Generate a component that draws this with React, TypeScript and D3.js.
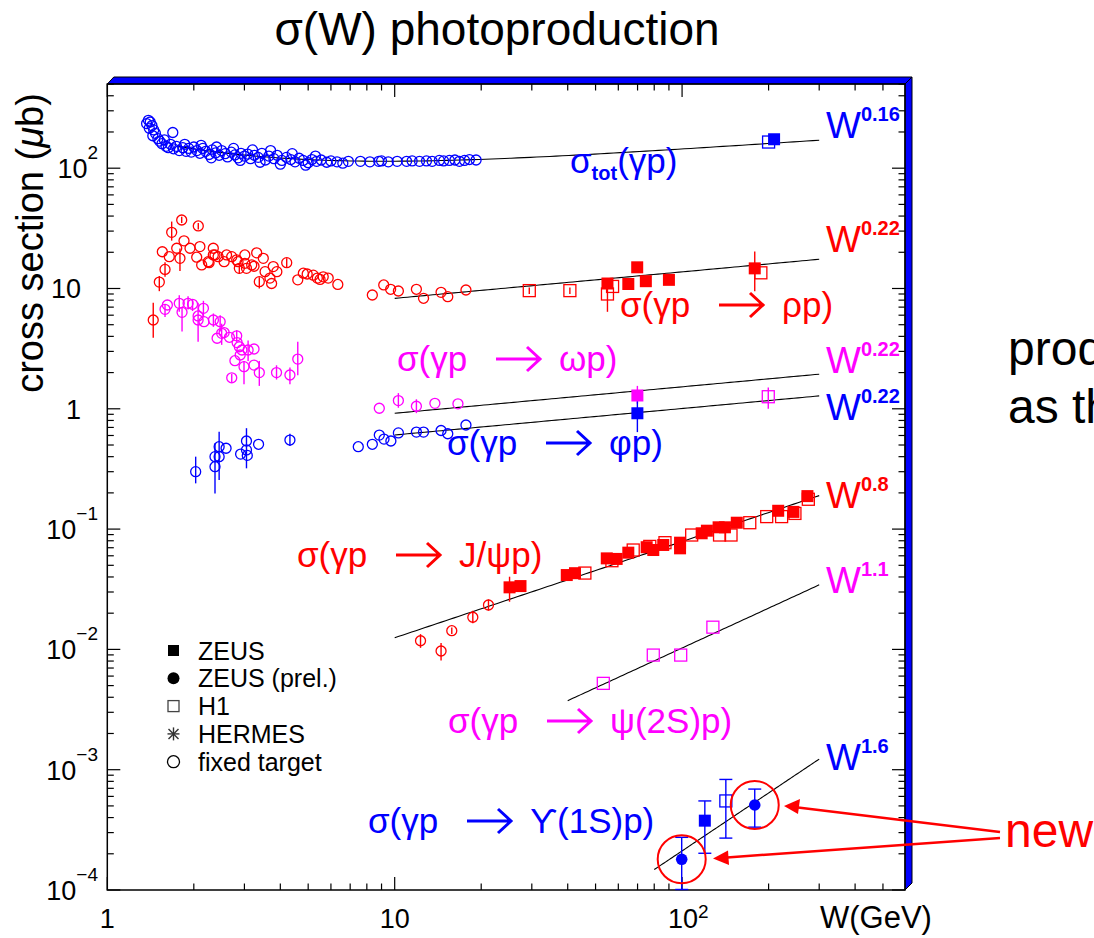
import React from 'react';
import * as d3 from 'd3';

// ---------- data: [W (GeV), sigma (microbarn), errLo?, errHi?] ----------
const sigTotFixedTarget: number[][] = [
  [1.37, 235], [1.39, 250], [1.41, 242], [1.43, 226], [1.40, 215], [1.45, 208], [1.47, 195], [1.44, 186],
  [1.50, 176], [1.52, 168], [1.55, 160], [1.58, 172], [1.60, 152], [1.63, 148], [1.66, 158], [1.69, 198],
  [1.70, 145], [1.74, 152], [1.78, 140], [1.83, 148], [1.86, 158], [1.88, 138], [1.92, 146], [1.96, 136], [2.0, 150],
  [2.05, 140], [2.1, 133], [2.12, 155], [2.15, 146], [2.2, 138], [2.26, 130], [2.3, 122], [2.32, 142], [2.38, 134],
  [2.4, 150], [2.45, 128], [2.5, 140], [2.57, 132], [2.62, 124], [2.7, 136], [2.75, 146], [2.78, 129], [2.85, 122],
  [2.9, 116], [2.92, 133], [3.0, 126], [3.08, 131], [3.15, 120], [3.2, 142], [3.25, 128], [3.35, 123], [3.4, 112],
  [3.45, 133], [3.55, 117], [3.65, 126], [3.7, 140], [3.8, 120], [3.9, 128], [4.0, 108], [4.05, 116], [4.2, 123],
  [4.35, 118], [4.4, 132], [4.5, 113], [4.65, 121], [4.8, 116], [4.9, 106], [5.0, 111], [5.15, 118], [5.3, 126],
  [5.35, 114], [5.55, 117], [5.8, 112], [6.0, 115], [6.3, 113], [6.6, 110], [6.9, 114],
  [7.6, 114], [8.2, 113], [8.8, 114], [9.0, 115], [9.5, 113], [10.2, 114], [11.0, 114], [11.5, 115],
  [12.2, 114], [12.9, 115], [13.5, 114], [14.3, 116], [14.8, 115], [15.5, 116], [16.2, 117], [16.8, 114],
  [17.5, 116], [18.2, 118], [19.2, 117],
];
const sigTotZEUS: number[][] = [[209, 174]];
const sigTotH1: number[][] = [[200, 165]];

const rhoFixedTarget: number[][] = [
  [1.445, 5.47, 3.9, 7.6], [1.517, 11.3, 9.5, 12.7], [1.554, 20.2], [1.588, 14.4, 12.5, 16.5], [1.643, 18.4],
  [1.675, 29.3, 25, 36], [1.744, 21.6], [1.79, 17.8, 14, 21.5], [1.815, 37.1, 35, 39.5], [1.849, 24.9],
  [1.94, 21.6], [2.047, 18.2], [2.073, 33.1, 31, 35], [2.10, 22.3], [2.13, 15.7], [2.246, 16.7], [2.26, 16.4],
  [2.338, 21.6], [2.338, 19.0], [2.37, 19.0], [2.43, 18.4], [2.55, 16.7], [2.60, 19.0], [2.71, 18.4],
  [2.82, 17.3], [2.85, 16.7], [2.88, 14.7, 13.2, 16.2], [3.01, 19.0], [3.01, 16.2], [3.05, 14.7], [3.18, 15.7],
  [3.24, 15.3], [3.31, 19.8], [3.38, 11.4, 10.0, 12.4], [3.49, 17.8], [3.54, 13.8], [3.68, 12.2], [3.73, 11.0],
  [3.78, 15.2], [3.89, 13.8], [4.21, 16.4, 15.0, 17.8], [4.60, 11.8], [4.81, 13.4], [4.96, 13.2], [5.21, 12.9],
  [5.38, 12.2], [5.50, 11.9], [5.64, 12.5], [5.87, 12.2], [6.34, 10.8], [8.36, 8.83], [9.16, 10.7],
  [9.68, 9.85], [10.3, 9.53], [11.9, 9.85], [12.6, 8.29], [14.5, 9.29], [15.3, 8.55], [17.7, 9.72],
];
const rhoZEUS: number[][] = [[55, 11.0], [65, 10.9], [69.8, 15.0, 13.5, 16.5], [74.8, 11.5], [90, 11.8], [179, 14.7, 9.5, 20.3]];
const rhoH1: number[][] = [[29.4, 9.6, 9.0, 10.2], [40.7, 9.6, 9.0, 10.2], [55, 9.0, 6.4, 10.0], [57.3, 10.4], [188, 13.5]];

const omegaFixedTarget: number[][] = [
  [1.588, 6.71, 5.8, 7.3], [1.618, 7.29], [1.78, 7.53, 6.4, 8.8], [1.82, 6.34, 4.4, 6.9], [1.91, 7.53, 6.7, 8.6],
  [1.98, 7.39, 6.5, 8.0], [2.07, 5.91], [2.07, 5.47, 3.6, 7.6], [2.16, 6.84, 5.8, 7.9], [2.17, 5.30],
  [2.34, 5.47, 4.8, 6.2], [2.41, 3.86], [2.47, 5.30, 4.4, 6.0], [2.50, 4.24, 3.4, 5.1], [2.55, 4.30],
  [2.66, 3.93], [2.71, 1.81, 1.65, 1.95], [2.78, 2.51], [2.82, 4.04, 3.6, 4.5], [2.83, 3.55], [2.88, 3.28],
  [2.90, 2.80], [2.94, 3.08], [2.99, 2.24, 1.6, 2.5], [3.09, 3.08, 2.5, 3.7], [3.24, 3.14], [3.24, 2.31],
  [3.38, 2.0, 1.55, 2.5], [3.88, 2.0, 1.75, 2.3], [4.32, 1.91, 1.6, 2.2], [4.6, 2.59, 1.9, 3.6],
  [8.84, 1.01], [10.3, 1.17, 1.02, 1.35], [11.9, 1.05, 0.92, 1.2], [13.8, 1.11], [16.6, 1.10],
];
const omegaZEUS: number[][] = [[69.9, 1.29, 1.1, 1.55]];
const omegaH1: number[][] = [[199.5, 1.26, 1.0, 1.5]];

const phiFixedTarget: number[][] = [
  [2.03, 0.30, 0.24, 0.40], [2.37, 0.33, 0.198, 0.517], [2.37, 0.40], [2.45, 0.40], [2.45, 0.484, 0.256, 0.645],
  [2.59, 0.47], [2.91, 0.42], [3.05, 0.54, 0.32, 0.69], [3.05, 0.455], [3.07, 0.41], [3.36, 0.507],
  [4.32, 0.55, 0.49, 0.62], [7.47, 0.484], [8.36, 0.507], [8.84, 0.605], [9.18, 0.56], [9.7, 0.54],
  [10.3, 0.63], [11.9, 0.64], [12.6, 0.64], [14.5, 0.66], [15.3, 0.62], [17.7, 0.733],
];
const phiZEUS: number[][] = [[69.9, 0.918, 0.64, 1.15]];

const jpsiFixedTarget: number[][] = [
  [12.3, 0.0118, 0.0103, 0.0134], [14.5, 0.0097, 0.0081, 0.0113], [15.8, 0.0143, 0.0134, 0.0152],
  [18.7, 0.0185, 0.0165, 0.021], [21.2, 0.0234, 0.021, 0.026],
];
const jpsiZEUS: number[][] = [
  [25.1, 0.0328, 0.0249, 0.0402], [27.4, 0.0336], [39.7, 0.0415], [42.4, 0.043], [54.7, 0.0571], [59.2, 0.0565],
  [65, 0.0637], [75.3, 0.0707], [79.4, 0.067], [86, 0.0738], [98.4, 0.0771], [98.4, 0.0692], [117, 0.0923],
  [122, 0.097], [134, 0.1035], [141, 0.1035], [155, 0.113], [216, 0.142], [244, 0.139], [273, 0.188],
];
const jpsiH1: number[][] = [
  [45.9, 0.0431], [57.0, 0.0546], [67.6, 0.067], [77.2, 0.0718], [87.2, 0.0771], [108, 0.0893], [135, 0.0893],
  [148, 0.0893], [172, 0.113], [197, 0.127], [222, 0.127], [247, 0.135], [275, 0.177],
];

const psi2sH1: number[][] = [[53.2, 0.00522], [79.4, 0.00897], [98.9, 0.00897], [128, 0.0153]];

const upsZEUS: number[][] = [[120, 0.000377, 0.000202, 0.00055]];
const upsH1: number[][] = [[142, 0.00055, 0.00027, 0.00083]];
const upsZEUSprel: number[][] = [[99.7, 0.00018, 0.000101, 0.000274], [179, 0.000509, 0.000333, 0.00069]];

// fits: sigma = A * W^n  (W range from..to)
const powerFits = [
  { A: 4.99, n: 0.22, from: 10, to: 300 },
  { A: 0.553, n: 0.22, from: 10, to: 300 },
  { A: 0.365, n: 0.22, from: 10, to: 300 },
  { A: 0.00198, n: 0.8, from: 10, to: 300 },
  { A: 6.48e-5, n: 1.1, from: 40, to: 300 },
  { A: 1.333e-7, n: 1.6, from: 80, to: 300 },
];
// Donnachie-Landshoff total cross section: X s^eps + Y s^-eta (s = W^2)
const dlFit = { X: 67.7, eps: 0.0808, Y: 129, eta: 0.4525, from: 1.75, to: 300 };

const W_DOMAIN = [1, 596.6];
const SIG_DOMAIN = [1e-4, 501];

const yTickLabels = [
  { v: 100, base: '10', exp: '2' },
  { v: 10, base: '10', exp: '' },
  { v: 1, base: '1', exp: '' },
  { v: 0.1, base: '10', exp: '\u22121' },
  { v: 0.01, base: '10', exp: '\u22122' },
  { v: 0.001, base: '10', exp: '\u22123' },
  { v: 0.0001, base: '10', exp: '\u22124' },
];
const xTickLabels = [
  { v: 1, base: '1', exp: '' },
  { v: 10, base: '10', exp: '' },
  { v: 100, base: '10', exp: '2' },
];

const legendItems = [
  { label: 'ZEUS', marker: 'fsquare' },
  { label: 'ZEUS (prel.)', marker: 'fcircle' },
  { label: 'H1', marker: 'osquare' },
  { label: 'HERMES', marker: 'star' },
  { label: 'fixed target', marker: 'ocircle' },
];

const BLUE = '#0000ff';
const RED = '#ff0000';
const MAG = '#ff00ff';
const FONT = '"Liberation Sans", Arial, Helvetica, sans-serif';

export default function App() {
  const x = d3.scaleLog().domain(W_DOMAIN).range([107.3, 905]);
  const y = d3.scaleLog().domain(SIG_DOMAIN).range([890, 84]);
  const L = 107.3, R = 905, T = 84, B = 890;

  const line = d3.line<number[]>().x(d => x(d[0])).y(d => y(d[1]));
  const sampleW = (a: number, b: number) => d3.range(0, 101).map(i => a * Math.pow(b / a, i / 100));

  const xTicks: { v: number; major: boolean }[] = [];
  [1, 10, 100].forEach(d => d3.range(1, 10).forEach(m => { const v = d * m; if (v <= W_DOMAIN[1]) xTicks.push({ v, major: m === 1 }); }));
  const yTicks: { v: number; major: boolean }[] = [];
  [1e-4, 1e-3, 1e-2, 1e-1, 1, 10, 100].forEach(d => d3.range(1, 10).forEach(m => { const v = d * m; if (v <= SIG_DOMAIN[1]) yTicks.push({ v, major: m === 1 }); }));

  const errBar = (p: number[], color: string, key: string, caps = false) => {
    if (p.length < 4) return null;
    const cx = x(p[0]);
    const y1 = y(p[2]), y2 = y(p[3]);
    return (
      <g key={key} stroke={color} strokeWidth={1.4}>
        <line x1={cx} x2={cx} y1={y1} y2={y2} />
        {caps && <line x1={cx - 6.5} x2={cx + 6.5} y1={y1} y2={y1} />}
        {caps && <line x1={cx - 6.5} x2={cx + 6.5} y1={y2} y2={y2} />}
      </g>
    );
  };

  const series = (pts: number[][], kind: string, color: string, key: string, caps = false) => (
    <g key={key}>
      {pts.map((p, i) => errBar(p, color, `${key}e${i}`, caps))}
      {pts.map((p, i) => {
        const cx = x(p[0]), cy = y(p[1]);
        if (kind === 'ft') return <circle key={i} cx={cx} cy={cy} r={5} fill="none" stroke={color} strokeWidth={1.3} />;
        if (kind === 'zeus') return <rect key={i} x={cx - 6} y={cy - 6} width={12} height={12} fill={color} />;
        if (kind === 'h1') return <rect key={i} x={cx - 6} y={cy - 6} width={12} height={12} fill="none" stroke={color} strokeWidth={1.3} />;
        return <circle key={i} cx={cx} cy={cy} r={5.8} fill={color} />;
      })}
    </g>
  );

  const Proc = ({ x0, base, color, tail }: { x0: number; base: number; color: string; tail: string }) => (
    <g fill={color} fontSize={35} fontFamily={FONT}>
      <text x={x0} y={base}>σ(γp</text>
      <path d={`M${x0 + 99},${base - 12}H${x0 + 143}M${x0 + 130},${base - 24}L${x0 + 143},${base - 12}L${x0 + 130},${base}`}
        stroke={color} strokeWidth={3} fill="none" />
      <text x={x0 + 162} y={base}>{tail}</text>
    </g>
  );

  const WLabel = ({ base, color, exp }: { base: number; color: string; exp: string }) => (
    <text x={826} y={base} fill={color} fontSize={37} fontFamily={FONT}>
      W<tspan dy={-17} fontSize={20} fontWeight="bold">{exp}</tspan>
    </text>
  );

  const legendMarker = (m: string, cx: number, cy: number) => {
    if (m === 'fsquare') return <rect x={cx - 5.5} y={cy - 5.5} width={11} height={11} fill="#000" />;
    if (m === 'fcircle') return <circle cx={cx} cy={cy} r={6} fill="#000" />;
    if (m === 'osquare') return <rect x={cx - 5.5} y={cy - 5.5} width={11} height={11} fill="none" stroke="#444" strokeWidth={1.3} />;
    if (m === 'star') return (
      <g stroke="#333" strokeWidth={1.4}>
        <line x1={cx - 6} x2={cx + 6} y1={cy} y2={cy} />
        <line x1={cx} x2={cx} y1={cy - 6.5} y2={cy + 6.5} />
        <line x1={cx - 5} x2={cx + 5} y1={cy - 5} y2={cy + 5} />
        <line x1={cx - 5} x2={cx + 5} y1={cy + 5} y2={cy - 5} />
      </g>
    );
    return <circle cx={cx} cy={cy} r={6} fill="none" stroke="#000" strokeWidth={1.3} />;
  };

  const ups1 = upsZEUSprel[0], ups2 = upsZEUSprel[1];

  return (
    <svg width={1094} height={938} style={{ position: 'absolute', left: 0, top: 0, background: '#fff' }}
      xmlns="http://www.w3.org/2000/svg">
      <rect x={0} y={0} width={1094} height={938} fill="#fff" />
      {/* title */}
      <text x={497} y={45} textAnchor="middle" fontSize={46} fontFamily={FONT} fill="#000">σ(W) photoproduction</text>

      {/* blue 3D frame */}
      <polygon points={`${L},${T} ${L + 6.5},${T - 7} ${R + 7},${T - 7} ${R},${T}`} fill={BLUE} stroke="#000" strokeWidth={1} />
      <polygon points={`${R},${T} ${R + 7},${T - 7} ${R + 7},${B - 7} ${R},${B}`} fill={BLUE} stroke="#000" strokeWidth={1} />

      {/* axes frame */}
      <rect x={L} y={T} width={R - L} height={B - T} fill="none" stroke="#000" strokeWidth={1.5} />

      {/* ticks */}
      <g stroke="#000" strokeWidth={1.2}>
        {xTicks.map((t, i) => {
          const px = x(t.v); const len = t.major ? 13 : 6.5;
          return (
            <g key={`xt${i}`}>
              <line x1={px} x2={px} y1={B} y2={B - len} />
              <line x1={px} x2={px} y1={T} y2={T + len} />
            </g>
          );
        })}
        {yTicks.map((t, i) => {
          const py = y(t.v); const len = t.major ? 13 : 6.5;
          return (
            <g key={`yt${i}`}>
              <line x1={L} x2={L + len} y1={py} y2={py} />
              <line x1={R} x2={R - len} y1={py} y2={py} />
            </g>
          );
        })}
      </g>

      {/* tick labels */}
      <g fontFamily={FONT} fontSize={27} fill="#000">
        {yTickLabels.map((t, i) => (
          t.exp ? (
            <text key={`yl${i}`} x={98} y={y(t.v) + 10} textAnchor="end">
              {t.base}<tspan dy={-19} fontSize={19}>{t.exp}</tspan>
            </text>
          ) : (
            <text key={`yl${i}`} x={81} y={y(t.v) + 10} textAnchor="end">{t.base}</text>
          )
        ))}
        {xTickLabels.map((t, i) => (
          t.exp ? (
            <text key={`xl${i}`} x={x(t.v) - 14} y={928} textAnchor="start">
              {t.base}<tspan dy={-10} fontSize={19}>{t.exp}</tspan>
            </text>
          ) : (
            <text key={`xl${i}`} x={x(t.v)} y={928} textAnchor="middle">{t.base}</text>
          )
        ))}
        <text x={820} y={928} fontSize={31}>W(GeV)</text>
      </g>

      {/* y axis title */}
      <text transform="translate(43,243) rotate(-90)" textAnchor="middle" fontSize={38} fontFamily={FONT} fill="#000">
        cross section (<tspan fontStyle="italic">μ</tspan>b)
      </text>

      {/* fit curves */}
      <g fill="none" stroke="#000" strokeWidth={1.1}>
        <path d={line(sampleW(dlFit.from, dlFit.to).map(w => {
          const s = w * w;
          return [w, dlFit.X * Math.pow(s, dlFit.eps) + dlFit.Y * Math.pow(s, -dlFit.eta)];
        })) || ''} />
        {powerFits.map((f, i) => (
          <path key={`pf${i}`} d={line(sampleW(f.from, f.to).map(w => [w, f.A * Math.pow(w, f.n)])) || ''} />
        ))}
      </g>

      {/* data */}
      {series(sigTotFixedTarget, 'ft', BLUE, 'stft')}
      {series(sigTotH1, 'h1', BLUE, 'sth1')}
      {series(sigTotZEUS, 'zeus', BLUE, 'stz')}
      {series(rhoFixedTarget, 'ft', RED, 'rft')}
      {series(rhoH1, 'h1', RED, 'rh1')}
      {series(rhoZEUS, 'zeus', RED, 'rz')}
      {series(omegaFixedTarget, 'ft', MAG, 'oft')}
      {series(omegaZEUS, 'zeus', MAG, 'oz')}
      {series(omegaH1, 'h1', MAG, 'oh1')}
      {series(phiFixedTarget, 'ft', BLUE, 'pft')}
      {series(phiZEUS, 'zeus', BLUE, 'pz')}
      {series(jpsiFixedTarget, 'ft', RED, 'jft')}
      {series(jpsiZEUS, 'zeus', RED, 'jz')}
      {series(jpsiH1, 'h1', RED, 'jh1')}
      {series(psi2sH1, 'h1', MAG, 'ps')}
      {series(upsZEUS, 'zeus', BLUE, 'uz', true)}
      {series(upsH1, 'h1', BLUE, 'uh1', true)}
      {series(upsZEUSprel, 'prel', BLUE, 'up', true)}

      {/* highlight circles */}
      <circle cx={x(ups1[0])} cy={y(ups1[1])} r={24} fill="none" stroke={RED} strokeWidth={2} />
      <circle cx={x(ups2[0])} cy={y(ups2[1])} r={24} fill="none" stroke={RED} strokeWidth={2} />

      {/* process labels */}
      <g fill={BLUE} fontFamily={FONT}>
        <text x={570} y={173} fontSize={35}>σ<tspan dy={7} fontSize={20} fontWeight="bold">tot</tspan><tspan dy={-7} fontSize={35}>(γp)</tspan></text>
      </g>
      <Proc x0={620} base={317} color={RED} tail="ρp)" />
      <Proc x0={397} base={371} color={MAG} tail="ωp)" />
      <Proc x0={447} base={455} color={BLUE} tail="φp)" />
      <Proc x0={297} base={567} color={RED} tail="J/ψp)" />
      <Proc x0={448} base={733} color={MAG} tail="ψ(2S)p)" />
      <Proc x0={368} base={833} color={BLUE} tail="ϒ(1S)p)" />

      <WLabel base={138} color={BLUE} exp="0.16" />
      <WLabel base={252} color={RED} exp="0.22" />
      <WLabel base={373} color={MAG} exp="0.22" />
      <WLabel base={420} color={BLUE} exp="0.22" />
      <WLabel base={508} color={RED} exp="0.8" />
      <WLabel base={593} color={MAG} exp="1.1" />
      <WLabel base={770} color={BLUE} exp="1.6" />

      {/* legend */}
      <g fontFamily={FONT} fontSize={25} fill="#000">
        {legendItems.map((it, i) => {
          const cy = 650.5 + i * 27.8;
          return (
            <g key={`lg${i}`}>
              {legendMarker(it.marker, 173.5, cy)}
              <text x={198} y={cy + 9}>{it.label}</text>
            </g>
          );
        })}
      </g>

      {/* slide text */}
      <g fontFamily={FONT} fontSize={48} fill="#000">
        <text x={1008} y={365}>prod</text>
        <text x={1008} y={423}>as th</text>
      </g>
      <text x={1005} y={847} fontFamily={FONT} fontSize={48} fill={RED}>new</text>
      <g stroke={RED} strokeWidth={2.5} fill={RED}>
        <line x1={1000} y1={832} x2={798} y2={807.5} />
        <polygon points="784,806 800,799 798,814" stroke="none" />
        <line x1={1000} y1={838} x2={727} y2={857.5} />
        <polygon points="713,858.5 728,850.5 729,865" stroke="none" />
      </g>
    </svg>
  );
}
